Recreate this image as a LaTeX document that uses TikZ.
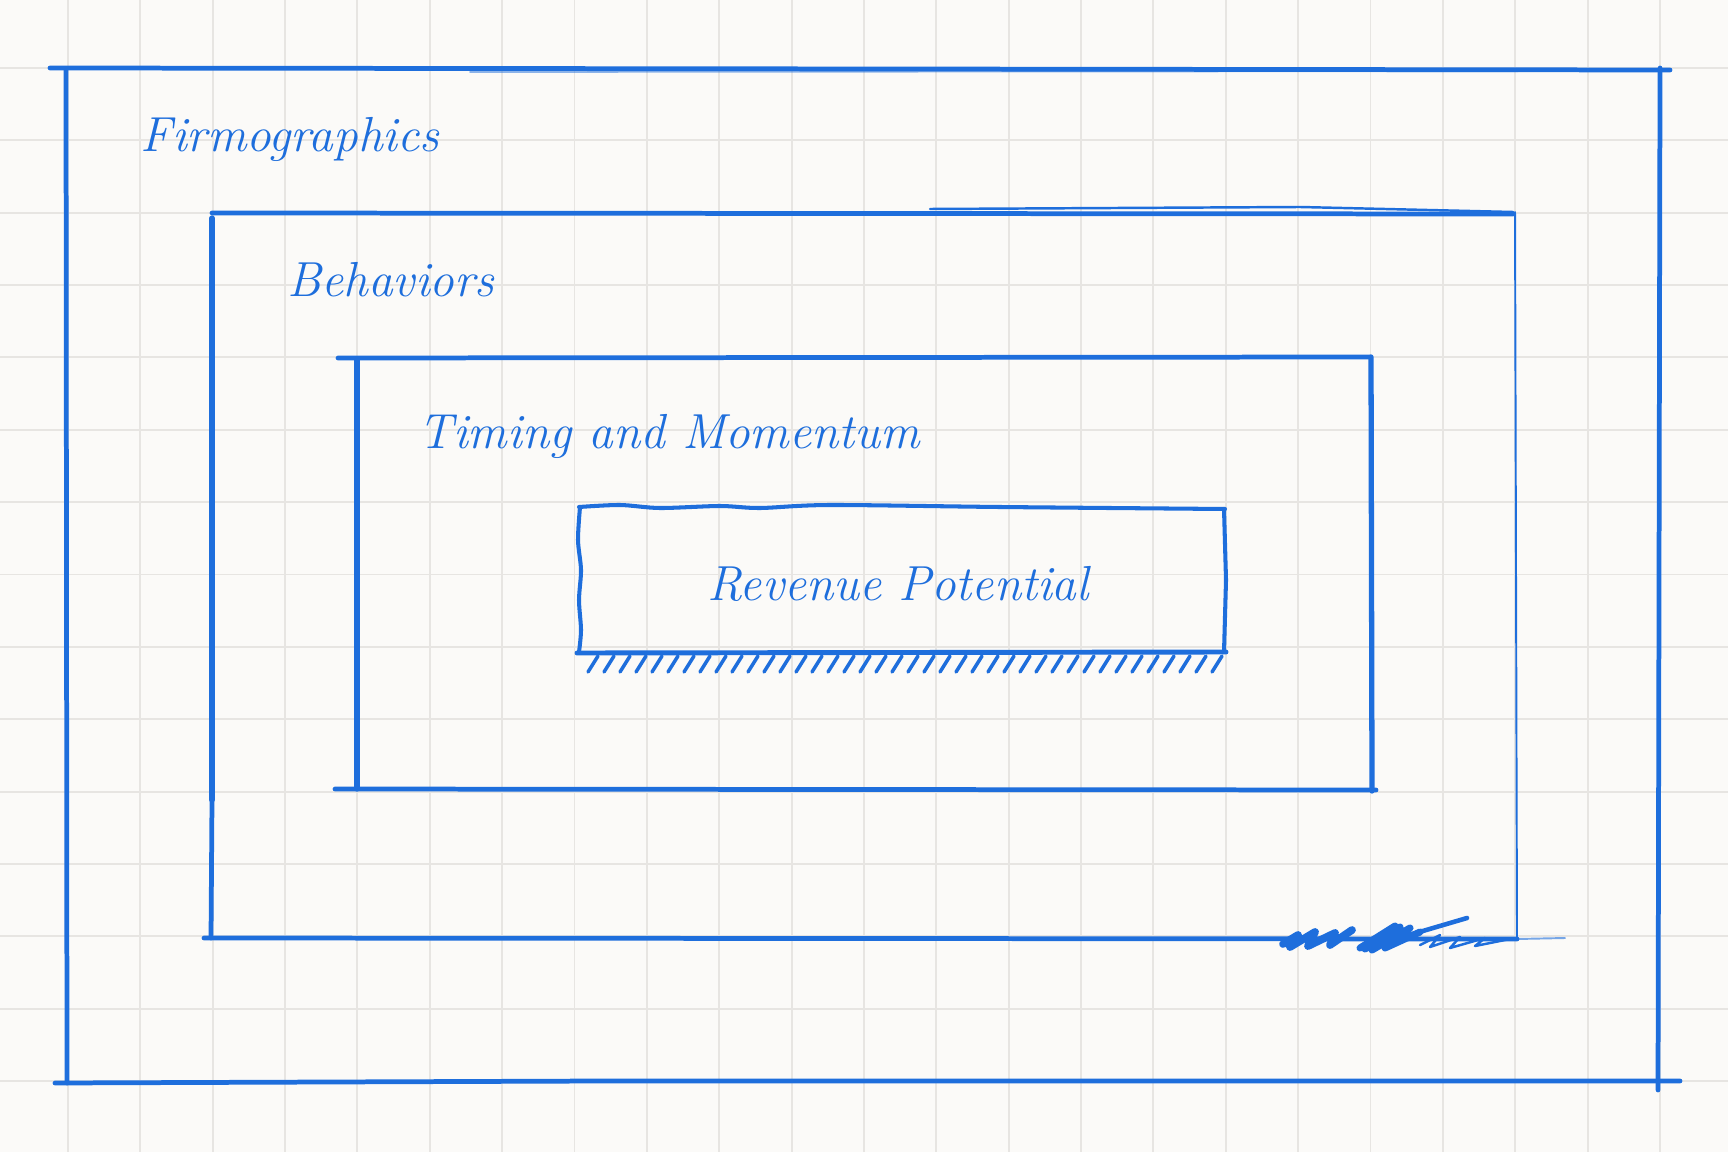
\documentclass[tikz,border=0pt]{standalone}
\usetikzlibrary{decorations.pathmorphing}
\definecolor{bg}{HTML}{FBFAF8}
\definecolor{gridc}{HTML}{E7E5E2}
\definecolor{ink}{HTML}{1E6EDC}
\tikzset{
  pen/.style={draw=ink, line width=1.35pt, line cap=round, line join=round},
  thinpen/.style={draw=ink, line width=0.55pt, line cap=round},
  label/.style={text=ink, font=\fontsize{14}{16}\selectfont\itshape, inner sep=0pt, anchor=base west},
}
\begin{document}
\begin{tikzpicture}[x=0.01cm, y=-0.01cm]
\useasboundingbox (0,0) rectangle (1728,1152);
\fill[bg] (0,0) rectangle (1728,1152);
% grid
\foreach \k in {0,...,22} {
  \draw[gridc, line width=0.55pt] ({68+72.36*\k},0) -- ({68+72.36*\k},1152);
}
\foreach \k in {0,...,14} {
  \draw[gridc, line width=0.55pt] (0,{68+72.36*\k}) -- (1728,{68+72.36*\k});
}
% outer box (Firmographics)
\draw[pen] (50,68) -- (900,69) -- (1670,70);
\draw[pen, line width=0.5pt, draw opacity=0.5] (470,72) -- (1670,71);
\draw[pen] (66,69) -- (67,1083);
\draw[pen] (1660,68) -- (1658,1090);
\draw[pen] (55,1083) -- (600,1081) -- (1680,1081);
% box 2 (Behaviors)
\draw[pen] (212,213) -- (1513,214);
\draw[pen, line width=0.7pt] (930,209) -- (1300,207) -- (1513,212);
\draw[pen, line width=1.5pt] (212,218) -- (212,800);
\draw[pen] (212,800) -- (211,938);
\draw[thinpen] (1515,212) -- (1517,938);
\draw[pen] (204,938) -- (1517,939);
\draw[thinpen, draw opacity=0.6] (1517,939) -- (1565,938);
% scribble
\draw[pen, line width=2.2pt] (1283,944) -- (1298,935) -- (1290,947) -- (1315,932) -- (1308,946) -- (1335,933) -- (1330,945) -- (1352,930);
\draw[pen, line width=2pt] (1360,948) -- (1395,926) -- (1365,949) -- (1400,927) -- (1372,950) -- (1410,928) -- (1385,948) -- (1420,932);
\draw[pen, line width=1.3pt] (1365,948) -- (1467,918);
\draw[pen, line width=0.7pt] (1420,945) -- (1440,935) -- (1430,947) -- (1460,937) -- (1450,948) -- (1485,938) -- (1475,946) -- (1510,939);
% box 3 (Timing and Momentum)
\draw[pen] (338,358) -- (1370,357);
\draw[pen, line width=1.5pt] (357,360) -- (357,789);
\draw[pen, line width=1.5pt] (1371,357) -- (1372,791);
\draw[pen] (335,789) -- (1376,790);
% revenue box
\draw[pen, line width=1.15pt] plot[smooth] coordinates {(579,507) (620,505) (660,508) (720,506) (760,508) (830,505) (1000,507) (1225,509)};
\draw[pen, line width=1.15pt] plot[smooth] coordinates {(580,507) (578,540) (581,570) (579,600) (581,630) (579,652)};
\draw[pen, line width=1.15pt] (1224,509) -- (1226,580) -- (1224,652);
\draw[pen, line width=1.4pt] (577,653) -- (1226,652);
\foreach \x in {588,604,...,1212} {
  \draw[pen, line width=1pt] (\x,672) -- (\x+10,656);
}
% labels
\node[label] (firmo) at (140,152) {Firmographics};
\node[label] (behav) at (287,297) {Behaviors};
\node[label] (timing) at (418,448) {Timing and Momentum};
\node[label, anchor=base] (revenue) at (898,600) {Revenue Potential};
\end{tikzpicture}
\end{document}
